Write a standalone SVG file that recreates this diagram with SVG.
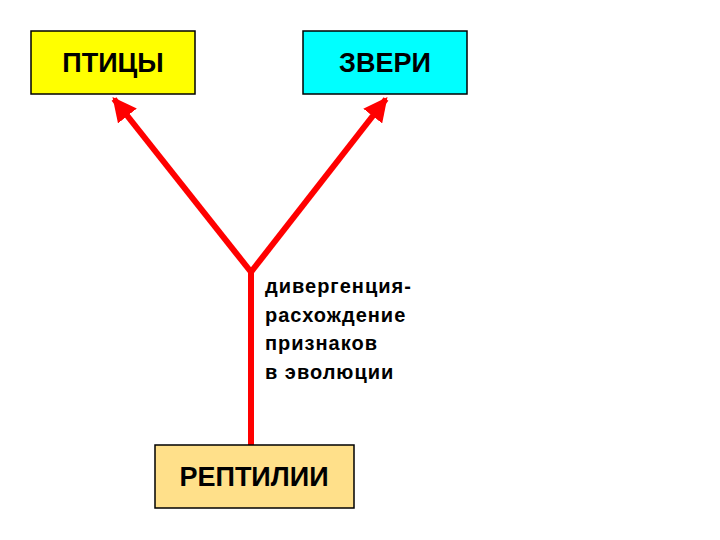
<svg xmlns="http://www.w3.org/2000/svg" width="720" height="540" viewBox="0 0 720 540">
<style>
.box{stroke:#000;stroke-width:1.5}
.lbl{font-family:"Liberation Sans",Arial,sans-serif;font-weight:bold;font-size:27px;fill:#000;text-anchor:middle}
.note{font-family:"Liberation Sans",Arial,sans-serif;font-weight:bold;font-size:20px;fill:#000;letter-spacing:1px}
.ln{stroke:#F00;stroke-width:6;fill:none;stroke-linejoin:miter}
</style>
<defs>
<marker id="ah" viewBox="0 0 10 10" refX="9" refY="5" markerWidth="4" markerHeight="4" orient="auto" markerUnits="strokeWidth">
<path d="M0,0 L10,5 L0,10 Z" fill="#F00"/>
</marker>
</defs>
<rect width="720" height="540" fill="#fff"/>
<g id="connectors">
<line class="ln" x1="251" y1="445" x2="251" y2="270"/>
<line class="ln" x1="251" y1="272" x2="114" y2="99" marker-end="url(#ah)"/>
<line class="ln" x1="251" y1="272" x2="386" y2="99" marker-end="url(#ah)"/>
</g>
<g id="birds"><rect class="box" x="31" y="31" width="164" height="63" fill="#FFFF00"/><text class="lbl" x="113" y="72">ПТИЦЫ</text></g>
<g id="beasts"><rect class="box" x="303" y="31" width="164" height="63" fill="#00FFFF"/><text class="lbl" x="385" y="72">ЗВЕРИ</text></g>
<g id="reptiles"><rect class="box" x="155" y="445" width="199" height="63" fill="#FFE08A"/><text class="lbl" x="254" y="486">РЕПТИЛИИ</text></g>
<g id="note">
<text class="note" x="265" y="293">дивергенция-</text>
<text class="note" x="265" y="322">расхождение</text>
<text class="note" x="265" y="350">признаков</text>
<text class="note" x="265" y="379">в эволюции</text>
</g>
</svg>
